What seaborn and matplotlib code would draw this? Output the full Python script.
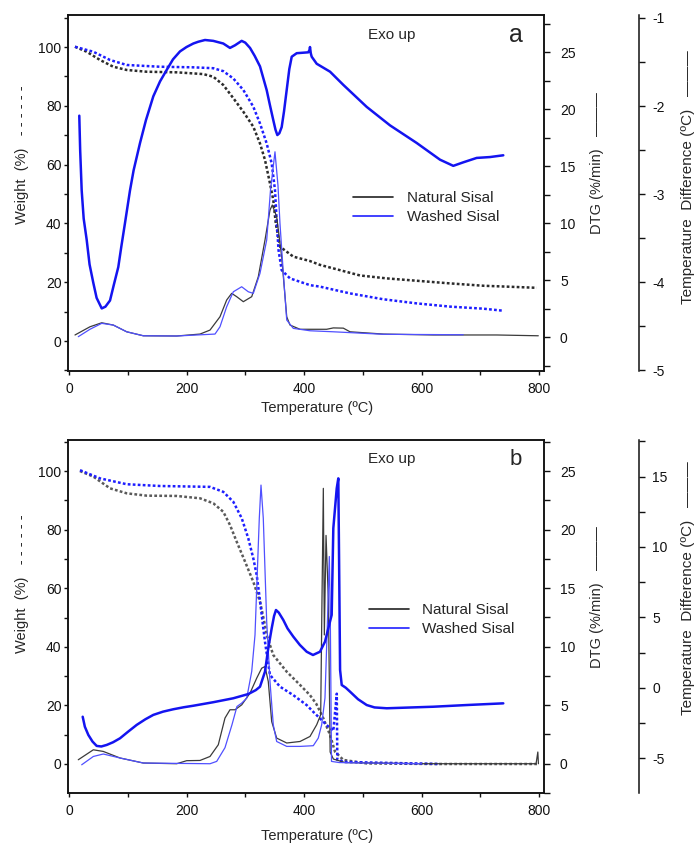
import matplotlib
matplotlib.use("Agg")
import matplotlib.pyplot as plt
from matplotlib.lines import Line2D
from matplotlib.ticker import MultipleLocator, FixedLocator
import seaborn as sns

# ---------------- data: panel a ----------------
a_dsc_temp = [17.5, 19.0, 21.6, 25.0, 30.1, 35.0, 41.4, 47.0, 55.7, 62.0, 69.8, 76.0, 83.9, 89.0, 95.3,
              103.8, 110.0, 120.9, 131.0, 143.5, 155.0, 166.3, 177.0, 188.9, 200.0, 211.6, 220.0, 231.5,
              245.6, 262.6, 274.0, 282.6, 293.9, 300.0, 308.1, 316.0, 325.1, 336.5, 342.0, 347.7, 351.5,
              354.6, 358.0, 362.0, 366.0, 370.5, 375.0, 379.1, 387.6, 407.3, 409.5, 410.2, 411.5, 413.1,
              421.6, 444.3, 466.9, 506.7, 546.4, 591.8, 631.5, 654.1, 671.1, 693.9, 716.6, 739.2]
a_dsc_washed = [-2.11, -2.50, -2.96, -3.28, -3.52, -3.80, -4.01, -4.18, -4.30, -4.28, -4.21, -4.04, -3.83,
                -3.60, -3.33, -2.96, -2.73, -2.42, -2.16, -1.89, -1.72, -1.59, -1.47, -1.38, -1.33, -1.29,
                -1.27, -1.25, -1.26, -1.29, -1.34, -1.31, -1.26, -1.28, -1.34, -1.43, -1.55, -1.82, -1.99,
                -2.16, -2.27, -2.33, -2.31, -2.24, -2.06, -1.82, -1.58, -1.44, -1.40, -1.39, -1.36, -1.33,
                -1.40, -1.44, -1.52, -1.61, -1.76, -2.01, -2.22, -2.42, -2.61, -2.68, -2.64, -2.59, -2.58,
                -2.56]

a_tg_temp_nat = [10.2, 30.1, 52.8, 75.4, 98.2, 132.3, 183.3, 228.6, 245.6, 262.6, 279.7, 296.7, 313.7,
                 325.1, 333.6, 342.1, 347.7, 352.0, 359.1, 381.8, 410.2, 427.2, 461.3, 495.3, 540.8, 591.8,
                 648.5, 705.2, 745.0, 796.1]
a_tg_nat = [100.1, 98.4, 95.6, 93.3, 92.2, 91.6, 91.4, 90.8, 89.9, 87.1, 82.6, 78.0, 72.9, 67.2, 61.6,
            53.6, 48.0, 40.0, 32.1, 28.7, 27.2, 25.9, 24.1, 22.3, 21.3, 20.5, 19.6, 18.8, 18.5, 18.1]

a_tg_temp_wash = [10.2, 41.4, 69.8, 98.2, 154.9, 211.6, 245.6, 262.6, 279.7, 296.7, 313.7, 325.1, 336.5,
                  345.0, 350.6, 353.5, 356.6, 362.0, 376.2, 410.2, 427.2, 478.3, 535.0, 591.8, 648.5,
                  705.2, 739.2]
a_tg_wash = [100.1, 98.4, 95.6, 93.9, 93.3, 93.1, 92.8, 91.8, 89.3, 85.4, 79.7, 74.0, 67.2, 60.4, 51.4,
             41.0, 31.0, 24.1, 21.3, 19.0, 18.5, 16.2, 14.2, 12.8, 11.7, 11.0, 10.3]

a_dtg_temp_nat = [10.2, 35.7, 55.7, 75.4, 98.2, 126.5, 183.3, 223.0, 240.0, 257.0, 268.4, 276.9, 285.4,
                  296.7, 311.0, 322.2, 333.6, 342.1, 346.0, 353.5, 362.0, 370.6, 376.2, 393.2, 438.6,
                  449.9, 466.9, 478.3, 535.0, 620.1, 728.0, 798.8]
a_dtg_nat = [0.18, 0.90, 1.25, 1.05, 0.46, 0.11, 0.09, 0.26, 0.61, 1.78, 3.25, 3.83, 3.54, 3.10, 3.54,
             5.29, 8.51, 11.14, 11.58, 10.55, 7.04, 1.78, 1.05, 0.68, 0.68, 0.80, 0.78, 0.46, 0.26, 0.18,
             0.18, 0.11]

a_dtg_temp_wash = [15.8, 35.7, 55.7, 75.4, 98.2, 126.5, 183.3, 248.5, 257.0, 268.4, 279.7, 293.9, 305.2,
                   313.7, 325.1, 336.5, 343.0, 350.6, 355.7, 359.1, 364.8, 370.6, 381.8, 410.2, 449.9,
                   535.0, 671.1]
a_dtg_wash = [0.03, 0.68, 1.20, 1.05, 0.46, 0.11, 0.09, 0.26, 0.90, 2.66, 3.97, 4.41, 3.97, 3.83, 5.59,
              8.51, 12.9, 16.25, 13.3, 9.97, 5.59, 1.49, 0.76, 0.55, 0.46, 0.24, 0.20]

# ---------------- data: panel b ----------------
b_dsc_temp = [23.3, 27.0, 32.9, 40.0, 47.1, 55.0, 64.2, 75.0, 86.8, 100.0, 115.2, 130.0, 143.5, 160.0,
              177.5, 195.0, 211.6, 245.6, 279.7, 305.2, 318.0, 325.1, 333.6, 339.2, 345.0, 349.0, 352.3,
              357.0, 364.8, 372.0, 381.8, 393.0, 404.6, 415.3, 427.2, 435.7, 441.4, 447.1, 449.9, 455.7,
              458.4, 459.7, 461.4, 464.2, 471.0, 478.3, 492.0, 506.7, 520.0, 540.8, 620.1, 676.9, 739.2]
b_dsc_washed = [-2.04, -2.75, -3.33, -3.80, -4.11, -4.15, -4.04, -3.85, -3.57, -3.12, -2.62, -2.22, -1.91,
                -1.68, -1.51, -1.37, -1.26, -1.01, -0.73, -0.43, -0.15, 0.09, 1.16, 2.82, 4.23, 5.10, 5.53,
                5.35, 4.82, 4.22, 3.64, 3.05, 2.57, 2.34, 2.57, 3.28, 4.23, 5.18, 11.33, 14.16, 14.87, 9.08,
                1.28, 0.21, 0.02, -0.26, -0.80, -1.21, -1.38, -1.44, -1.33, -1.21, -1.09]

b_tg_temp_nat = [18.7, 41.4, 69.8, 98.2, 132.3, 183.3, 223.0, 245.6, 262.6, 274.0, 285.4, 299.6, 313.7,
                 325.1, 333.6, 336.5, 347.7, 370.6, 393.2, 410.2, 421.0, 432.9, 444.3, 452.8, 466.9, 506.7,
                 620.1, 798.8]
b_tg_nat = [100.0, 98.1, 94.1, 92.4, 91.6, 91.5, 90.7, 89.0, 86.1, 81.6, 75.9, 69.1, 62.2, 55.4, 47.4,
            44.0, 37.2, 31.5, 27.0, 23.5, 20.5, 15.6, 9.9, 4.2, 1.4, 0.2, 0.0, 0.0]

b_tg_temp_wash = [18.7, 52.8, 98.2, 154.9, 240.0, 262.6, 279.7, 294.0, 305.2, 313.7, 319.5, 323.9, 328.0,
                  333.6, 338.7, 342.1, 359.1, 381.8, 404.6, 415.8, 438.6, 449.9, 455.8, 456.7, 469.8,
                  631.5]
b_tg_wash = [100.3, 97.5, 95.5, 94.9, 94.6, 92.9, 89.5, 83.9, 77.0, 70.2, 64.5, 57.7, 50.9, 41.7, 34.8,
             30.4, 26.4, 23.5, 20.1, 17.8, 13.3, 11.3, 24.0, 1.4, 0.7, 0.0]

b_dtg_temp_nat = [15.8, 41.4, 58.4, 86.8, 126.5, 183.3, 200.3, 223.0, 240.0, 254.1, 265.5, 274.0, 282.6,
                  294.0, 308.1, 319.5, 328.0, 333.6, 339.2, 345.0, 353.5, 370.6, 393.2, 410.2, 421.6,
                  428.4, 430.6, 432.9, 434.6, 437.5, 441.5, 444.5, 450.0, 470.0, 600.0, 795.0, 798.0, 799.0]
b_dtg_nat = [0.34, 1.19, 1.05, 0.49, 0.06, 0.0, 0.26, 0.28, 0.62, 1.62, 3.90, 4.61, 4.61, 5.03, 6.03,
             7.31, 8.16, 8.30, 7.02, 3.60, 2.19, 1.77, 1.90, 2.33, 3.33, 4.18, 14.0, 23.52, 11.0, 19.5,
             14.0, 1.0, 0.4, 0.1, 0.0, 0.0, 1.0, 0.0]

b_dtg_temp_wash = [21.6, 41.4, 58.4, 86.8, 126.5, 240.0, 251.4, 265.5, 277.4, 285.9, 294.0, 302.5, 311.0,
                   316.6, 323.9, 326.8, 330.7, 336.5, 342.1, 347.7, 353.5, 370.6, 393.2, 415.8, 424.3,
                   430.1, 435.7, 440.0, 443.1, 444.8, 446.8, 460.0, 600.0]
b_dtg_wash = [-0.09, 0.62, 0.83, 0.49, 0.06, 0.0, 0.20, 1.37, 3.33, 4.89, 5.18, 5.60, 7.88, 11.0, 20.96,
              23.8, 20.96, 12.14, 7.02, 3.33, 1.90, 1.48, 1.48, 1.54, 2.19, 3.33, 5.61, 12.3, 17.7, 12.3,
              0.2, 0.1, 0.0]

series_labels = ["Natural Sisal", "Washed Sisal"]
x_ticks = [0, 200, 400, 600, 800]
weight_ticks = [0, 20, 40, 60, 80, 100]
dtg_ticks = [0, 5, 10, 15, 20, 25]
a_tdiff_ticks = [-5, -4, -3, -2, -1]
b_tdiff_ticks = [-5, 0, 5, 10, 15]

# ---------------- style ----------------
sns.set_style("ticks")
plt.rcParams['font.family'] = ['Liberation Sans', 'DejaVu Sans']
plt.rcParams['axes.unicode_minus'] = False

W, H = 696, 846
fig = plt.figure(figsize=(W / 100, H / 100), dpi=100)

BLACK_DOT_A = '#2b2b2b'
BLACK_DOT_B = '#5a5a5a'
BLUE_DOT = '#1e1eff'
BLACK_THIN = '#3a3a3a'
BLUE_THIN = '#5050ff'
BLUE_THICK = '#1414f0'
DOTS = (0, (1.1, 0.9))


def px_axes(l, t, r, b):
    return fig.add_axes([l / W, 1 - b / H, (r - l) / W, (b - t) / H])


def draw(ax, x, y, color, lw, ls='-'):
    sns.lineplot(x=x, y=y, ax=ax, color=color, linewidth=lw, linestyle=ls,
                 sort=False, estimator=None, legend=False)


def panel(top, bottom, wlim, dlim, tlim, tmaj, tmin_step, data, black_dot, letter, leg_anchor,
          letter_size, ylab_centers):
    ax = px_axes(68, top, 544, bottom)
    ax2 = ax.twinx()
    ax3 = ax.twinx()
    (tg_tn, tg_n, tg_tw, tg_w, dtg_tn, dtg_n, dtg_tw, dtg_w, dsc_t, dsc_w) = data

    draw(ax, tg_tn, tg_n, black_dot, 1.8, DOTS)
    draw(ax, tg_tw, tg_w, BLUE_DOT, 1.8, DOTS)
    draw(ax2, dtg_tn, dtg_n, BLACK_THIN, 0.9)
    draw(ax2, dtg_tw, dtg_w, BLUE_THIN, 0.9)
    draw(ax3, dsc_t, dsc_w, BLUE_THICK, 1.8)

    for a in (ax, ax2, ax3):
        a.set_xlim(-1.7, 808.5)
        a.set_xlabel("")
        a.set_ylabel("")
    ax.set_ylim(*wlim)
    ax2.set_ylim(*dlim)
    ax3.set_ylim(*tlim)

    ax.xaxis.set_major_locator(FixedLocator(x_ticks))
    ax.xaxis.set_minor_locator(MultipleLocator(100))
    ax.yaxis.set_major_locator(FixedLocator(weight_ticks))
    ax.yaxis.set_minor_locator(MultipleLocator(10))
    ax2.yaxis.set_major_locator(FixedLocator(dtg_ticks))
    ax2.yaxis.set_minor_locator(MultipleLocator(2.5))
    ax3.yaxis.set_major_locator(FixedLocator(tmaj))
    ax3.yaxis.set_minor_locator(MultipleLocator(tmin_step))

    for a in (ax, ax2, ax3):
        for s in a.spines.values():
            s.set_linewidth(1.1)
            s.set_color('#111111')
    ax.tick_params(axis='both', which='both', direction='out', length=3.2, width=1.0,
                   labelsize=10, colors='#111111')
    ax.tick_params(axis='y', pad=1.5)
    ax.tick_params(axis='x', pad=5)
    ax2.tick_params(axis='y', which='both', direction='out', length=4.5, width=1.0,
                    labelsize=10, pad=7, colors='#111111')
    ax3.tick_params(axis='y', which='both', direction='out', length=4.5, width=1.0,
                    labelsize=10, pad=5, colors='#111111')
    ax3.spines['right'].set_position(('axes', 1.2))
    for s in ('left', 'top', 'bottom'):
        ax3.spines[s].set_visible(False)

    ax.text(0.630, 0.945, "Exo up", transform=ax.transAxes, fontsize=11, ha='left', va='center')
    ax.text(0.94, 0.945, letter, transform=ax.transAxes, fontsize=letter_size, ha='center', va='center')

    handles = [Line2D([], [], color='#222222', lw=1.2), Line2D([], [], color='#2020ff', lw=1.2)]
    ax3.legend(handles=handles, labels=series_labels, loc='upper left', bbox_to_anchor=leg_anchor,
               frameon=False, fontsize=11, handlelength=2.6, handletextpad=0.9,
               labelspacing=0.35, borderpad=0, borderaxespad=0)

    wy, dy, ty, xy = ylab_centers
    fig.text(22 / W, 1 - wy / H, "Weight  (%)   - - - - - -", rotation=90, ha='center', va='center',
             fontsize=10.5)
    fig.text(597 / W, 1 - dy / H, "DTG (%/min)   ———", rotation=90, ha='center', va='center',
             fontsize=10.5)
    fig.text(688 / W, 1 - ty / H, "Temperature  Difference (ºC)   ———", rotation=90, ha='center',
             va='center', fontsize=11)
    fig.text(317 / W, 1 - xy / H, "Temperature (ºC)", ha='center', va='center', fontsize=10.5)


panel(15, 371, (-10.2, 110.9), (-2.98, 28.25), (-5.011, -0.966), a_tdiff_ticks, 0.5,
      (a_tg_temp_nat, a_tg_nat, a_tg_temp_wash, a_tg_wash, a_dtg_temp_nat, a_dtg_nat,
       a_dtg_temp_wash, a_dtg_wash, a_dsc_temp, a_dsc_washed),
      BLACK_DOT_A, "a", (0.599, 0.506), 18, (155, 163, 177, 408))

panel(440, 793, (-9.9, 110.6), (-2.5, 27.65), (-7.45, 17.59), b_tdiff_ticks, 2.5,
      (b_tg_temp_nat, b_tg_nat, b_tg_temp_wash, b_tg_wash, b_dtg_temp_nat, b_dtg_nat,
       b_dtg_temp_wash, b_dtg_wash, b_dsc_temp, b_dsc_washed),
      BLACK_DOT_B, "b", (0.632, 0.538), 16, (584, 597, 588, 836))

fig.savefig("out.png", dpi=100)
